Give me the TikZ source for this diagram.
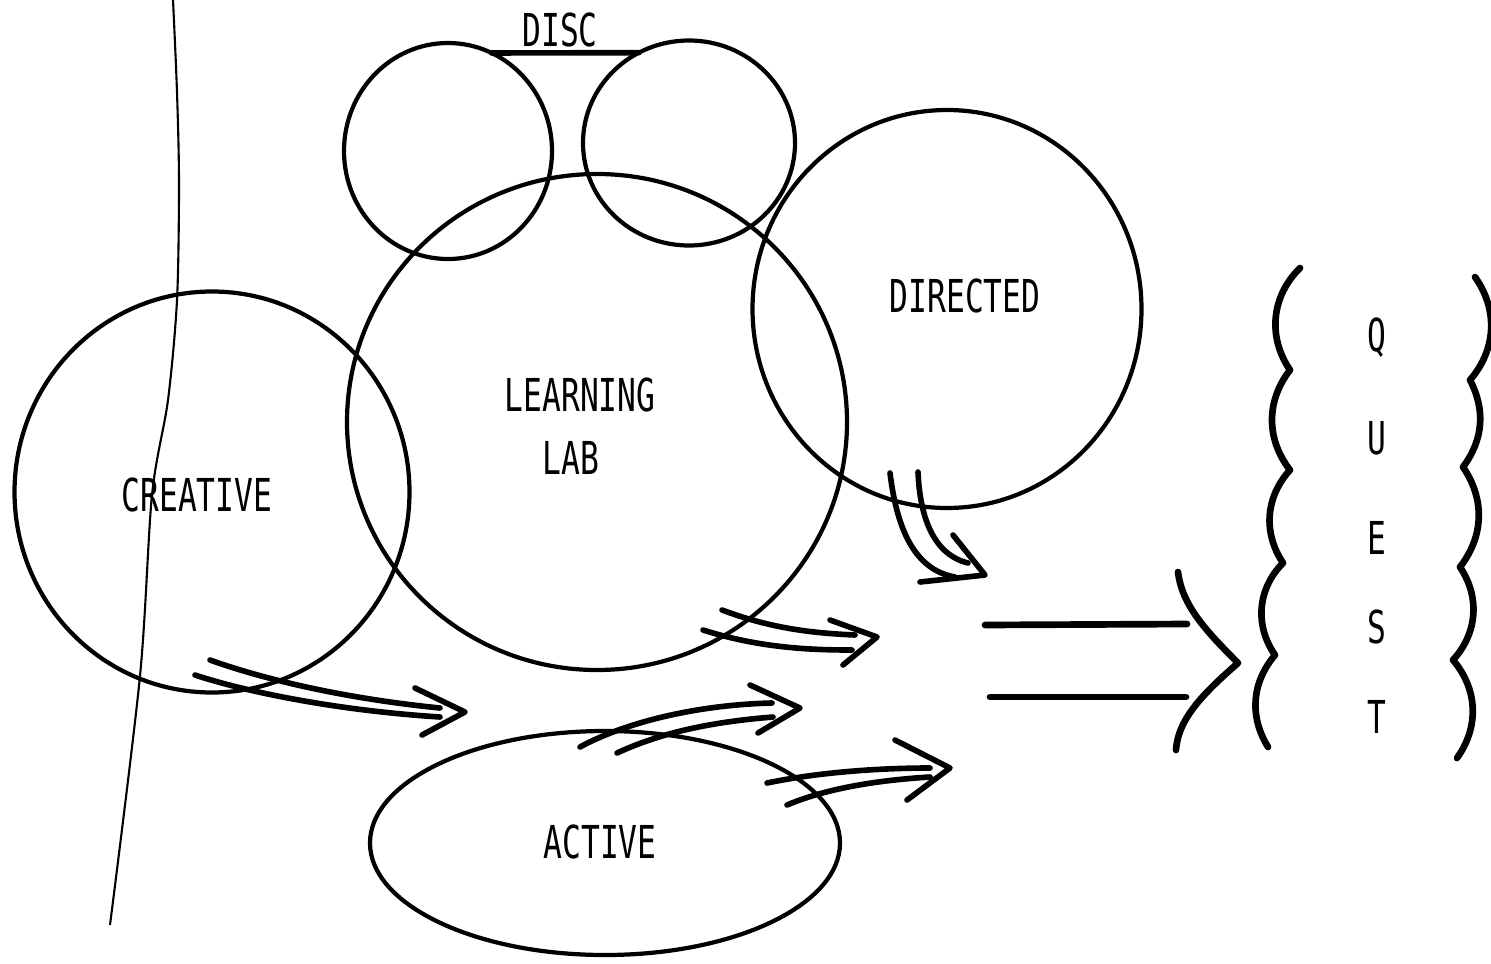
\documentclass[tikz,border=0pt]{standalone}
\usepackage{fontspec}
\usetikzlibrary{shapes.geometric}
\newfontfamily\lettering{DejaVu Sans Mono}[FakeStretch=0.69]
\begin{document}
\begin{tikzpicture}[x=0.1mm,y=-0.1mm,
  ring/.style={draw, ellipse, line width=1.2pt, inner sep=0pt, outer sep=0pt},
  word/.style={font=\lettering\fontsize{12.9}{14}\selectfont, inner sep=0pt, text height=9.4pt, text depth=0pt},
  pen/.style={line width=1.6pt, line cap=round, line join=round},
  heavy/.style={line width=1.9pt, line cap=round, line join=round},
  thin/.style={line width=0.6pt}]
\useasboundingbox (0,0) rectangle (1491,963);
\fill[white] (0,0) rectangle (1491,963);

% circles
\node[ring, minimum width=20.8mm, minimum height=21.6mm] (discL) at (448,151) {};
\node[ring, minimum width=21.2mm, minimum height=20.5mm] (discR) at (689,143) {};
\node[ring, minimum width=50mm, minimum height=49.6mm] (lab) at (597,422) {};
\node[ring, minimum width=38.9mm, minimum height=39.8mm] (directed) at (947,309) {};
\node[ring, minimum width=39.5mm, minimum height=40.1mm] (creative) at (212,492) {};
\node[ring, minimum width=47mm, minimum height=22.4mm] (active) at (605,843) {};

% disc bar
\draw[pen] (discL.66) -- (discR.119);

% labels
\node[word] (tdisc) at (560,30) {DISC};
\node[word] (tdir) at (965,296) {DIRECTED};
\node[word] (tlearn) at (580,395) {LEARNING};
\node[word] (tlab) at (571,458) {LAB};
\node[word] (tcre) at (197,495) {CREATIVE};
\node[word] (tact) at (600,842) {ACTIVE};
\node[word] (q1) at (1377,335) {Q};
\node[word] (q2) at (1377,438) {U};
\node[word] (q3) at (1377,538) {E};
\node[word] (q4) at (1377,627) {S};
\node[word] (q5) at (1377,717) {T};

% vertical line
\draw[thin] plot[smooth] coordinates {(173,0) (177,92) (179,184) (177,300) (168,400) (152,495) (140,676) (110,925)};

% arrow from DIRECTED
\coordinate (a1tip) at (985,575);
\draw[pen] (890,473) .. controls (897,530) and (915,570) .. (955,577);
\draw[pen] (918,472) .. controls (920,520) and (935,555) .. (968,563);
\draw[pen] (953,535) -- (a1tip) -- (920,582);

% arrow from LEARNING LAB
\coordinate (a2tip) at (877,637);
\draw[pen] (722,610) .. controls (770,628) and (810,633) .. (855,635);
\draw[pen] (703,630) .. controls (760,648) and (810,650) .. (852,650);
\draw[pen] (830,620) -- (a2tip) -- (843,665);

% arrow from CREATIVE
\coordinate (a3tip) at (465,712);
\draw[pen] (210,660) .. controls (260,678) and (340,698) .. (440,708);
\draw[pen] (195,675) .. controls (240,690) and (330,710) .. (440,717);
\draw[pen] (415,688) -- (a3tip) -- (422,735);

% arrows from ACTIVE
\coordinate (a4tip) at (800,708);
\draw[pen] (580,747) .. controls (620,725) and (690,705) .. (772,703);
\draw[pen] (617,753) .. controls (660,733) and (710,722) .. (773,717);
\draw[pen] (750,685) -- (a4tip) -- (758,733);

\coordinate (a5tip) at (950,768);
\draw[pen] (767,783) .. controls (820,772) and (880,768) .. (930,768);
\draw[pen] (787,805) .. controls (827,788) and (880,780) .. (930,777);
\draw[pen] (895,740) -- (a5tip) -- (907,800);

% implication sign
\draw[heavy] (985,625) -- (1187,624);
\draw[heavy] (990,697) -- (1186,697);
\coordinate (gtip) at (1238,663);
\draw[heavy] (1178,572) .. controls (1182,605) and (1205,630) .. (gtip)
  .. controls (1205,692) and (1178,718) .. (1176,750);

% QUEST brackets
\draw[heavy] (1300,268) to[bend right=40] (1290,370)
  to[bend right=38] (1290,470) to[bend right=38] (1283,563)
  to[bend right=40] (1275,655) to[bend right=36] (1268,747);
\draw[heavy] (1475,277) to[bend left=38] (1470,380)
  to[bend left=32] (1463,467) to[bend left=36] (1460,567)
  to[bend left=38] (1453,660) to[bend left=38] (1457,758);
\end{tikzpicture}
\end{document}
